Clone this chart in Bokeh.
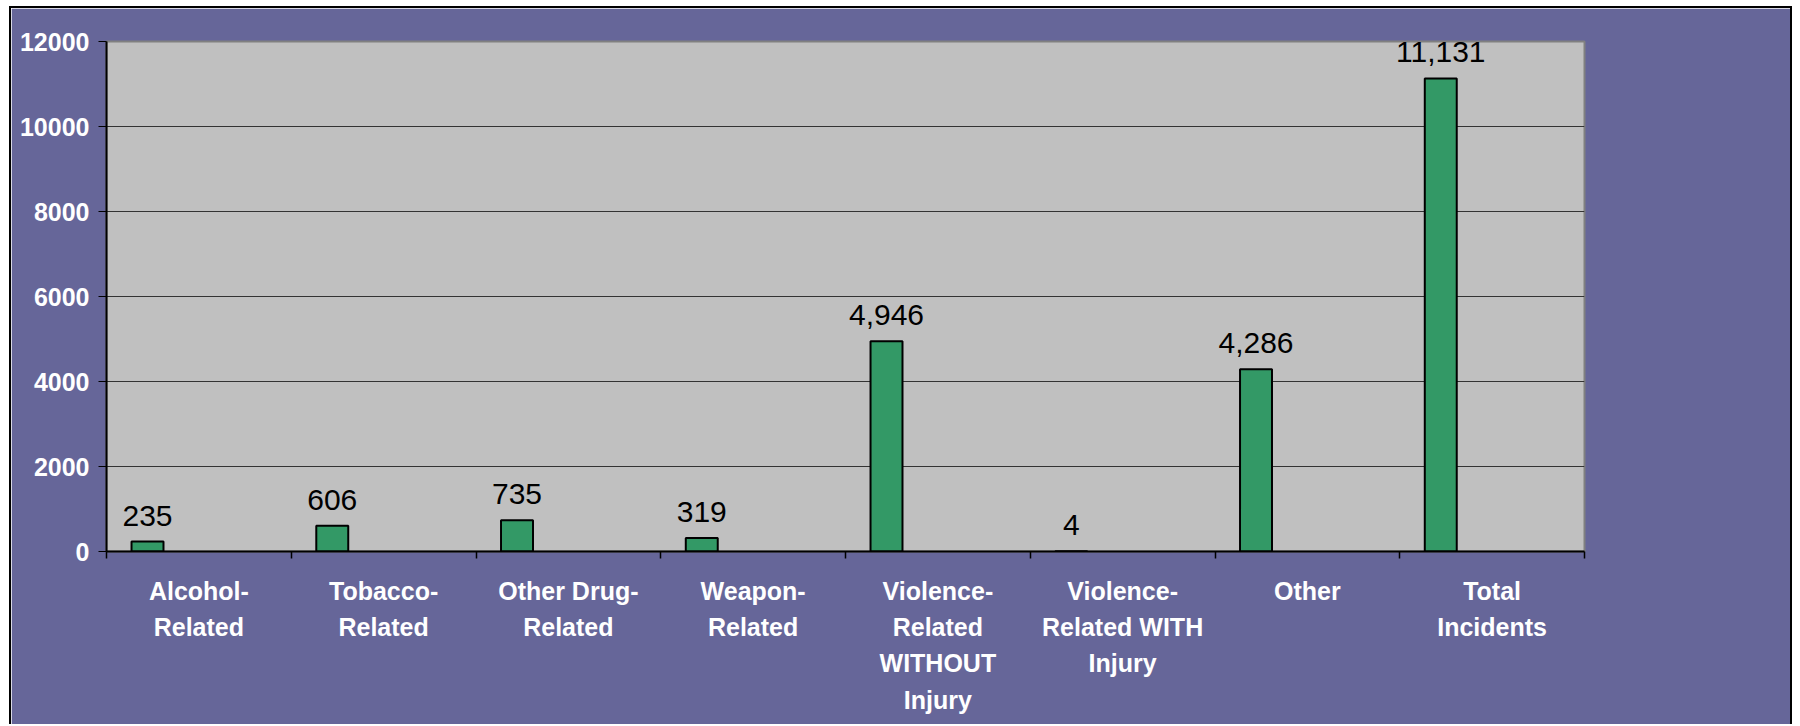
from bokeh.plotting import figure
from bokeh.models import ColumnDataSource, Range1d, FixedTicker, LabelSet
from bokeh.core.properties import value
from bokeh.embed import file_html
from bokeh.resources import INLINE
import numpy as np

# ---- data ----
categories = [
    "Alcohol-\nRelated",
    "Tobacco-\nRelated",
    "Other Drug-\nRelated",
    "Weapon-\nRelated",
    "Violence-\nRelated\nWITHOUT\nInjury",
    "Violence-\nRelated WITH\nInjury",
    "Other",
    "Total\nIncidents",
]
values = [235, 606, 735, 319, 4946, 4, 4286, 11131]
y_ticks = [0, 2000, 4000, 6000, 8000, 10000, 12000]

# ---- styling constants ----
PURPLE = "#666699"
PLOT_BG = "#C0C0C0"
BAR = "#339966"
FONT = "Liberation Sans"
BAR_OFFSET = 0.222   # bar centre within its category slot (Excel clustered look)
BAR_WIDTH = 0.173

n = len(categories)
idx = np.arange(n)
src = ColumnDataSource(dict(
    x=idx + BAR_OFFSET,
    top=values,
    label=[f"{v:,}" for v in values],
))

p = figure(
    width=1783, height=718,
    x_range=Range1d(0, n), y_range=Range1d(0, y_ticks[-1]),
    output_backend="svg", toolbar_location=None,
    min_border_left=95, min_border_top=33,
    min_border_right=210, min_border_bottom=175,
)
p.styles = {"margin-left": "9px", "margin-top": "6px",
            "border-left": "2px solid black", "border-top": "2px solid black",
            "border-right": "2px solid black"}

p.background_fill_color = PLOT_BG
p.border_fill_color = PURPLE
p.outline_line_color = "#808080"
p.outline_line_width = 2

p.vbar(x="x", top="top", width=BAR_WIDTH, bottom=0, source=src,
       fill_color=BAR, line_color="black", line_width=2)

labels = LabelSet(x="x", y="top", text="label", source=src,
                  text_align="center", text_baseline="bottom", y_offset=16,
                  text_font=value(FONT), text_font_size=value("30px"),
                  text_color="black")
p.add_layout(labels)

# x axis: labels at slot centres, ticks at slot boundaries (as minor ticks)
xa = p.xaxis[0]
xa.ticker = FixedTicker(ticks=list(idx + 0.5), minor_ticks=list(range(n + 1)))
xa.major_label_overrides = {float(i + 0.5): c for i, c in enumerate(categories)}
xa.major_tick_line_color = None
xa.major_tick_out = 0
xa.major_tick_in = 0
xa.minor_tick_line_color = "black"
xa.minor_tick_out = 7
xa.minor_tick_in = 0
xa.minor_tick_line_width = 1.5
xa.axis_line_color = "black"
xa.axis_line_width = 2
xa.major_label_text_color = "white"
xa.major_label_text_font = FONT
xa.major_label_text_font_style = "bold"
xa.major_label_text_font_size = "25px"
xa.major_label_text_line_height = 1.3
xa.major_label_standoff = 18
xa.major_label_orientation = "horizontal"

ya = p.yaxis[0]
ya.ticker = FixedTicker(ticks=y_ticks)
ya.minor_tick_line_color = None
ya.major_tick_line_color = "black"
ya.major_tick_out = 8
ya.major_tick_in = 0
ya.axis_line_color = "black"
ya.axis_line_width = 2
ya.major_label_text_color = "white"
ya.major_label_text_font = FONT
ya.major_label_text_font_style = "bold"
ya.major_label_text_font_size = "25px"
ya.major_label_standoff = 9

p.xgrid.grid_line_color = None
p.ygrid.ticker = FixedTicker(ticks=y_ticks)
p.ygrid.grid_line_color = "#333333"
p.ygrid.grid_line_width = 1

open("out.html", "w").write(file_html(p, INLINE))
